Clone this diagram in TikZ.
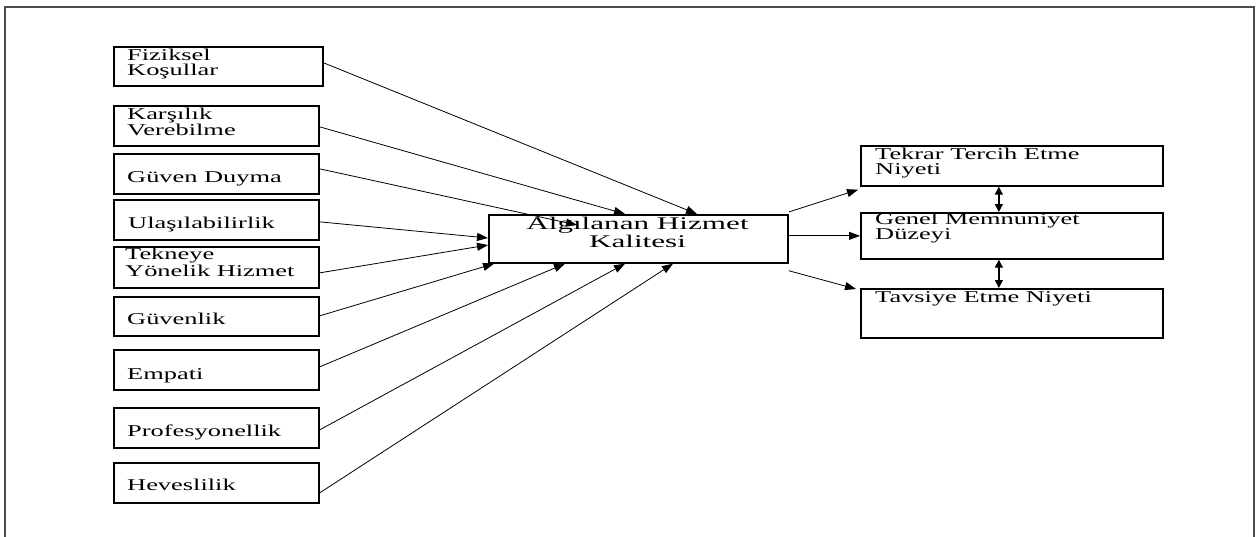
\documentclass[tikz,border=0pt]{standalone}
\usepackage{fontspec}
\newfontfamily\wf[FakeStretch=1.6]{Liberation Serif}
\newfontfamily\wfc[FakeStretch=1.75]{Liberation Serif}
\usetikzlibrary{arrows.meta}
\begin{document}
\begin{tikzpicture}[x=1pt,y=-1pt,
  box/.style={draw=black,line width=1.7pt,inner sep=0pt,anchor=north west},
  lbl/.style={inner sep=0pt,anchor=base west,align=left,font=\wf\fontsize{16.5}{14.5}\selectfont},
  clbl/.style={inner sep=0pt,anchor=base,align=center,font=\wfc\fontsize{17.8}{18}\selectfont},
  arr/.style={line width=0.8pt,-{Triangle[length=11pt,width=8pt]}},
  darr/.style={line width=1.3pt,{Triangle[length=8pt,width=8pt]}-{Triangle[length=8pt,width=8pt]}}]
\useasboundingbox (0,0) rectangle (1256,536);
\draw[line width=1.6pt,draw=black!70] (5,545) -- (5,7) -- (1254,7) -- (1254,545);
% left boxes
\node[box,minimum width=209pt,minimum height=39pt] (f1) at (113,46) {};
\node[box,minimum width=205pt,minimum height=40pt] (f2) at (113,105) {};
\node[box,minimum width=205pt,minimum height=40pt] (f3) at (113,153) {};
\node[box,minimum width=205pt,minimum height=40pt] (f4) at (113,199) {};
\node[box,minimum width=205pt,minimum height=41pt] (f5) at (113,246) {};
\node[box,minimum width=205pt,minimum height=39pt] (f6) at (113,296) {};
\node[box,minimum width=205pt,minimum height=40pt] (f7) at (113,349) {};
\node[box,minimum width=205pt,minimum height=40pt] (f8) at (113,407) {};
\node[box,minimum width=205pt,minimum height=40pt] (f9) at (113,462) {};
\node[lbl] (t1) at (127,75) {Fiziksel\\Koşullar};
\node[lbl] (t2) at (127,135) {Karşılık\\Verebilme};
\node[lbl] (t3) at (127,182) {Güven Duyma};
\node[lbl] (t4) at (128,228) {Ulaşılabilirlik};
\node[lbl] (t5) at (125,276) {Tekneye\\Yönelik Hizmet};
\node[lbl] (t6) at (127,324) {Güvenlik};
\node[lbl] (t7) at (127,379) {Empati};
\node[lbl] (t8) at (127,436) {Profesyonellik};
\node[lbl] (t9) at (127,490) {Heveslilik};
% central
\node[box,minimum width=299pt,minimum height=48pt] (c) at (488,214) {};
\node[clbl] (ct) at (637.5,247) {Algılanan Hizmet\\Kalitesi};
% right boxes
\node[box,minimum width=302pt,minimum height=40pt] (r1) at (860,145) {};
\node[box,minimum width=302pt,minimum height=46pt] (r2) at (860,212) {};
\node[box,minimum width=302pt,minimum height=49pt] (r3) at (860,288) {};
\node[lbl] (rt1) at (875,174) {Tekrar Tercih Etme\\Niyeti};
\node[lbl] (rt2) at (875,239) {Genel Memnuniyet\\Düzeyi};
\node[lbl] (rt3) at (875,302) {Tavsiye Etme Niyeti};
% connectors into central
\draw[arr] ([yshift=3.5pt]f1.east) -- ([xshift=209pt]c.north west);
\draw[arr] ([yshift=-1pt]f2.east) -- ([xshift=137pt]c.north west);
\draw[arr] ([yshift=5pt]f3.east) -- ([xshift=89pt,yshift=-11pt]c.north west);
\draw[arr] ([yshift=-2pt]f4.east) -- ([yshift=-24pt]c.north west);
\draw[arr] ([yshift=-5.5pt]f5.east) -- ([yshift=-31pt]c.north west);
\draw[arr] ([yshift=0.5pt]f6.east) -- ([xshift=6pt]c.south west);
\draw[arr] ([yshift=3pt]f7.east) -- ([xshift=77pt]c.south west);
\draw[arr] ([yshift=-2pt]f8.east) -- ([xshift=137pt]c.south west);
\draw[arr] ([yshift=-10pt]f9.east) -- ([xshift=185pt]c.south west);
% out of central
\draw[arr] ([yshift=2pt]c.north east) -- ([xshift=-2pt,yshift=-3pt]r1.south west);
\draw[arr] (r2.west -| c.east) -- (r2.west);
\draw[arr] ([yshift=-7pt]c.south east) -- ([xshift=-4pt,yshift=-1pt]r3.north west);
% double arrows
\draw[darr] ([xshift=-13pt]r1.south) -- ([xshift=-13pt]r2.north);
\draw[darr] ([xshift=-13pt]r2.south) -- ([xshift=-13pt]r3.north);
\end{tikzpicture}
\end{document}
